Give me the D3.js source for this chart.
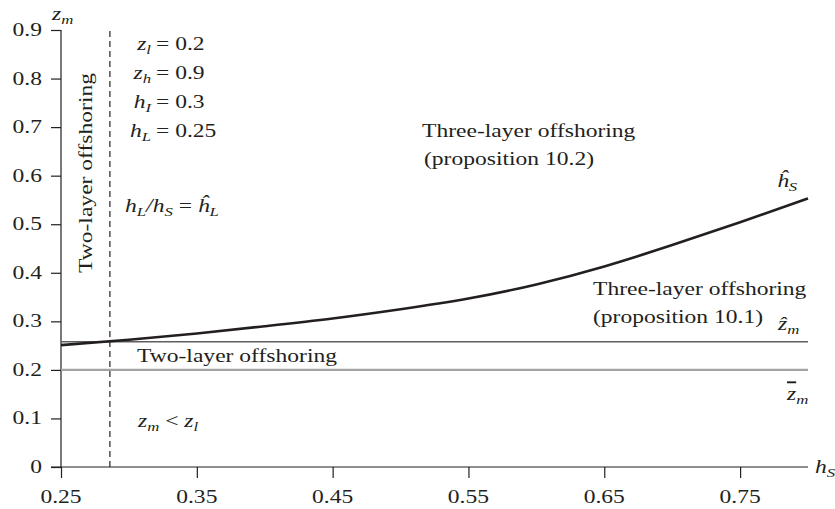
<!DOCTYPE html>
<html><head><meta charset="utf-8">
<script src="https://cdn.jsdelivr.net/npm/d3@7/dist/d3.min.js"></script>
<style>
html,body{margin:0;padding:0;background:#fff;}
svg text{font-family:"Liberation Serif","Times New Roman",serif;fill:#231f20;}
</style></head>
<body>
<svg id="chart" width="835" height="509"></svg>
<script>
// ---- data ----
const xTicks = [0.25, 0.35, 0.45, 0.55, 0.65, 0.75];
const yTicks = [0, 0.1, 0.2, 0.3, 0.4, 0.5, 0.6, 0.7, 0.8, 0.9];
const hSValues = [0.25, 0.30, 0.35, 0.40, 0.45, 0.50, 0.55, 0.60, 0.65, 0.70, 0.75, 0.80];
const hSCurve  = [0.251, 0.262, 0.275, 0.290, 0.306, 0.325, 0.347, 0.376, 0.413, 0.457, 0.504, 0.553];
const zHat = 0.258;
const zBar = 0.2;
const hLThreshold = 0.286;
const xDomain = [0.25, 0.80];
const yDomain = [0, 0.9];

const svg = d3.select("#chart");
const x = d3.scaleLinear().domain(xDomain).range([61, 808]);
const y = d3.scaleLinear().domain(yDomain).range([467, 30]);

const FS = 19, SUB = 13.5, SX = 1.24;

// text helper: segments [{t, i (italic), s (sub), o (overline)}]
function label(px, py, segs, anchor = "start", rotate = 0) {
  const g = svg.append("g")
    .attr("transform", `translate(${px},${py}) rotate(${rotate}) scale(${SX},1)`);
  const t = g.append("text").attr("text-anchor", anchor).attr("font-size", FS);
  let sub = false;
  segs.forEach(s => {
    const sp = t.append("tspan").text(s.t);
    if (s.i) sp.attr("font-style", "italic");
    if (s.s && !sub) { sp.attr("dy", 4).attr("font-size", SUB); sub = true; }
    else if (s.s) { sp.attr("font-size", SUB); }
    else if (!s.s && sub) { sp.attr("dy", -4); sub = false; }
    if (s.o) sp.attr("text-decoration", "overline");
  });
  return t;
}

// ---- axes ----
const yAxis = d3.axisLeft(y).tickValues(yTicks).tickSize(10).tickPadding(9)
  .tickFormat(d => d === 0 ? "0" : d3.format(".1f")(d));
const gy = svg.append("g").attr("transform", `translate(${x(xDomain[0])},0)`).call(yAxis);
gy.select(".domain").attr("d", `M0,${y(0)}V${y(0.9)}`).attr("stroke", "#231f20").attr("stroke-width", 1.2);
gy.selectAll(".tick line").attr("stroke", "#231f20").attr("stroke-width", 1.2);
gy.selectAll(".tick text").remove();
yTicks.forEach(v => label(x(xDomain[0]) - 19, y(v) + 6, [{t: v === 0 ? "0" : d3.format(".1f")(v)}], "end"));

const xAxis = d3.axisBottom(x).tickValues(xTicks).tickSize(11);
const gx = svg.append("g").attr("transform", `translate(0,${y(0)})`).call(xAxis);
gx.select(".domain").attr("d", `M${x(xDomain[0]) - 10},0H${x(xDomain[1])}`).attr("stroke", "#231f20").attr("stroke-width", 1.2);
gx.selectAll(".tick line").attr("stroke", "#231f20").attr("stroke-width", 1.2);
gx.selectAll(".tick text").remove();
xTicks.forEach(v => label(x(v), y(0) + 36, [{t: d3.format(".2f")(v)}], "middle"));

// ---- reference lines ----
svg.append("line")
  .attr("x1", x(xDomain[0])).attr("x2", x(xDomain[1]))
  .attr("y1", y(zBar)).attr("y2", y(zBar))
  .attr("stroke", "#a3a3a3").attr("stroke-width", 2.2);
svg.append("line")
  .attr("x1", x(xDomain[0])).attr("x2", x(xDomain[1]))
  .attr("y1", y(zHat)).attr("y2", y(zHat))
  .attr("stroke", "#5e5e5e").attr("stroke-width", 1.5);
svg.append("line")
  .attr("x1", x(hLThreshold)).attr("x2", x(hLThreshold))
  .attr("y1", y(0)).attr("y2", y(0.9))
  .attr("stroke", "#231f20").attr("stroke-width", 1.2).attr("stroke-dasharray", "6,4");

// ---- curve ----
const line = d3.line().x((d, i) => x(hSValues[i])).y(d => y(d)).curve(d3.curveNatural);
svg.append("path").datum(hSCurve).attr("d", line)
  .attr("fill", "none").attr("stroke", "#231f20").attr("stroke-width", 2.6);

// ---- labels ----
label(52, 20, [{t: "z", i: 1}, {t: "m", i: 1, s: 1}]);
label(815, 473, [{t: "h", i: 1}, {t: "S", i: 1, s: 1}]);

const params = [["z", "l", "0.2"], ["z", "h", "0.9"], ["h", "I", "0.3"], ["h", "L", "0.25"]];
params.forEach((p, k) => {
  const by = 50 + k * 29;
  label(151, by, [{t: p[0], i: 1}, {t: p[1], i: 1, s: 1}], "end");
  label(156, by, [{t: "= " + p[2]}]);
});

label(125, 212, [{t: "h", i: 1}, {t: "L", i: 1, s: 1}, {t: "/h", i: 1}, {t: "S", i: 1, s: 1}, {t: " = "}, {t: "\u0125", i: 1}, {t: "L", i: 1, s: 1}]);
label(138, 427, [{t: "z", i: 1}, {t: "m", i: 1, s: 1}, {t: " < "}, {t: "z", i: 1}, {t: "l", i: 1, s: 1}]);

label(92, 273, [{t: "Two-layer offshoring"}], "start", -90);
label(137, 362, [{t: "Two-layer offshoring"}]);

label(422, 137, [{t: "Three-layer offshoring"}]);
label(424, 165, [{t: "(proposition 10.2)"}]);

label(593, 295, [{t: "Three-layer offshoring"}]);
label(593, 323, [{t: "(proposition 10.1)"}]);

label(777, 187, [{t: "\u0125", i: 1}, {t: "S", i: 1, s: 1}]);
label(778, 330, [{t: "\u1E91", i: 1}, {t: "m", i: 1, s: 1}]);
label(787, 400, [{t: "z", i: 1, o: 1}, {t: "m", i: 1, s: 1}]);
</script>
</body></html>
